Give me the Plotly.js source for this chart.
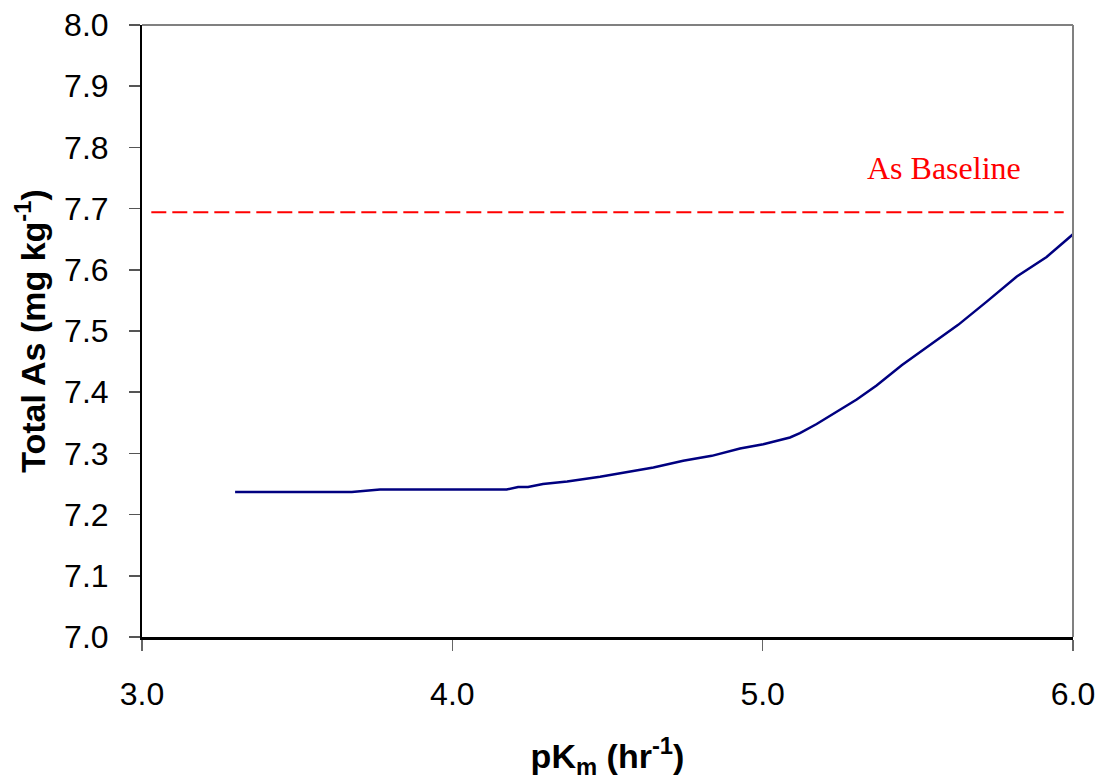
<!DOCTYPE html>
<html>
<head>
<meta charset="utf-8">
<script src="https://cdn.plot.ly/plotly-3.0.1.min.js"></script>
<style>html,body{margin:0;padding:0;background:#fff;}#chart{width:1102px;height:780px;}</style>
</head>
<body>
<div id="chart"></div>
<script>
const pKm = [3.30, 3.676, 3.767, 4.175, 4.212, 4.244, 4.292, 4.370, 4.476, 4.573, 4.648, 4.744, 4.836, 4.927, 5.002, 5.088, 5.120, 5.174, 5.239, 5.303, 5.367, 5.448, 5.539, 5.630, 5.722, 5.819, 5.915, 6.0];
const totalAs = [7.237, 7.237, 7.241, 7.241, 7.245, 7.245, 7.250, 7.254, 7.262, 7.270, 7.277, 7.288, 7.296, 7.308, 7.315, 7.326, 7.333, 7.348, 7.368, 7.388, 7.411, 7.444, 7.477, 7.510, 7.548, 7.589, 7.621, 7.658];
const baselineX = [3.03, 5.97];
const baselineY = [7.694, 7.694];
const baselineLabel = "As Baseline";
const xTicks = [3.0, 4.0, 5.0, 6.0];
const yTicks = [7.0, 7.1, 7.2, 7.3, 7.4, 7.5, 7.6, 7.7, 7.8, 7.9, 8.0];

const traces = [
  {x: pKm, y: totalAs, type: 'scatter', mode: 'lines', line: {color: '#000080', width: 2.5}, hoverinfo: 'skip'},
  {x: baselineX, y: baselineY, type: 'scatter', mode: 'lines', line: {color: '#FF0000', width: 2, dash: '15px,6px'}, hoverinfo: 'skip'}
];

const layout = {
  width: 1102, height: 780,
  margin: {l: 142, r: 29, t: 25, b: 143},
  paper_bgcolor: '#fff', plot_bgcolor: '#fff',
  showlegend: false,
  font: {family: 'Liberation Sans, Arial, sans-serif', color: '#000'},
  xaxis: {
    range: [3.0, 6.0], tickvals: xTicks, ticktext: xTicks.map(v => v.toFixed(1)),
    showgrid: false, zeroline: false, showline: true, linecolor: '#000', linewidth: 2.5,
    ticks: 'outside', ticklen: 11, tickwidth: 1.5, tickcolor: '#666',
    tickfont: {size: 32, family: 'Liberation Sans, Arial, sans-serif'}, ticklabelstandoff: 16,
    title: {text: '<b>pK<sub>m</sub> (hr<sup>-1</sup>)</b>', font: {size: 34, family: 'Liberation Sans, Arial, sans-serif'}, standoff: 34}
  },
  yaxis: {
    range: [7.0, 8.0], tickvals: yTicks, ticktext: yTicks.map(v => v.toFixed(1)),
    showgrid: false, zeroline: false, showline: true, linecolor: '#000', linewidth: 2,
    ticks: 'outside', ticklen: 11, tickwidth: 1.5, tickcolor: '#555',
    tickfont: {size: 32, family: 'Liberation Sans, Arial, sans-serif'}, ticklabelstandoff: 14,
    title: {text: '<b>Total As (mg kg<sup>-1</sup>)</b>', font: {size: 34, family: 'Liberation Sans, Arial, sans-serif'}, standoff: 8}
  },
  shapes: [
    {type: 'line', xref: 'paper', yref: 'paper', x0: 0, x1: 1, y0: 1, y1: 1, line: {color: '#808080', width: 2}},
    {type: 'line', xref: 'paper', yref: 'paper', x0: 1, x1: 1, y0: 0, y1: 1, line: {color: '#808080', width: 2}}
  ],
  annotations: [
    {x: 5.585, y: 7.766, xref: 'x', yref: 'y', text: baselineLabel, showarrow: false,
     font: {family: 'Liberation Serif, Times New Roman, serif', size: 32, color: '#FF0000'}}
  ]
};

Plotly.newPlot('chart', traces, layout, {displayModeBar: false, staticPlot: true});
</script>
</body>
</html>
